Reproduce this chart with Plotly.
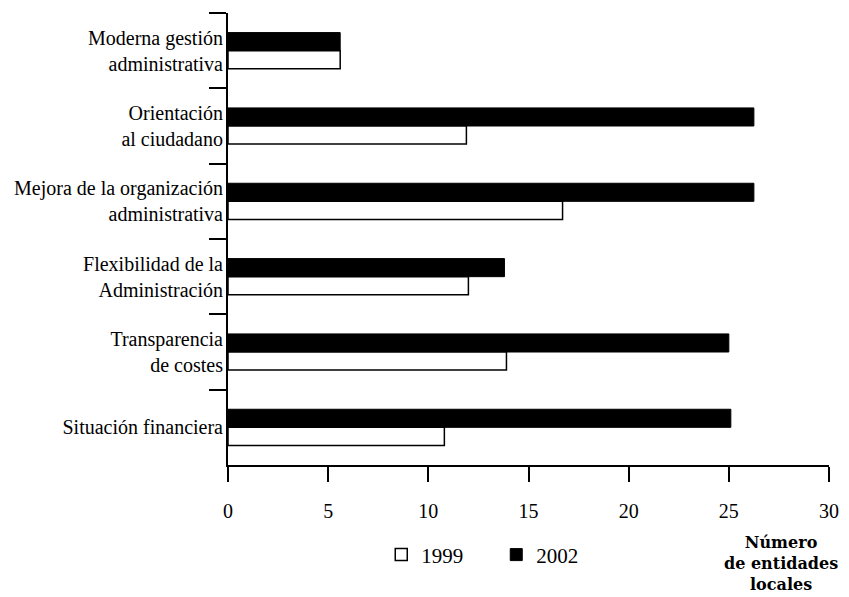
import plotly.graph_objects as go

categories = [
    "Moderna gestión<br>administrativa",
    "Orientación<br>al ciudadano",
    "Mejora de la organización<br>administrativa",
    "Flexibilidad de la<br>Administración",
    "Transparencia<br>de costes",
    "Situación financiera",
]
values_2002 = [5.6, 26.25, 26.25, 13.8, 25.0, 25.1]
values_1999 = [5.6, 11.9, 16.7, 12.0, 13.9, 10.8]
x_ticks = [0, 5, 10, 15, 20, 25, 30]

FONT = "Liberation Serif"

fig = go.Figure()
fig.add_trace(go.Bar(
    y=categories, x=values_2002, orientation="h", name="2002",
    marker=dict(color="black", line=dict(color="black", width=1)),
))
fig.add_trace(go.Bar(
    y=categories, x=values_1999, orientation="h", name="1999",
    marker=dict(color="white", line=dict(color="black", width=1.5)),
))

fig.update_layout(
    width=841, height=589,
    margin=dict(l=220, r=20, t=5, b=132),
    paper_bgcolor="white", plot_bgcolor="white",
    barmode="group", bargap=0.52, bargroupgap=0,
    font=dict(family=FONT, size=20, color="black"),
    showlegend=True,
    legend=dict(
        orientation="h", traceorder="reversed",
        x=0.255, xanchor="left", y=-0.199, yanchor="middle",
        font=dict(size=21), entrywidth=70, entrywidthmode="pixels",
        bgcolor="rgba(0,0,0,0)",
    ),
)
fig.update_yaxes(
    autorange="reversed", tickson="boundaries",
    ticks="outside", ticklen=17, tickwidth=2, tickcolor="black",
    showline=True, linecolor="black", linewidth=2,
    showgrid=False, ticklabelstandoff=-1,
    tickfont=dict(family=FONT, size=20),
)
fig.update_xaxes(
    range=[0, 30], tickvals=x_ticks, ticktext=[str(v) for v in x_ticks],
    ticks="outside", ticklen=15, tickwidth=2, tickcolor="black",
    showline=True, linecolor="black", linewidth=2,
    showgrid=False, zeroline=False, ticklabelstandoff=12,
    tickfont=dict(family=FONT, size=20),
)
fig.add_annotation(
    text="<b>Número<br>de entidades<br>locales</b>",
    xref="paper", yref="paper", x=0.92, y=-0.217,
    xanchor="center", yanchor="middle", showarrow=False,
    font=dict(family="DejaVu Serif", size=16, color="black"), align="center",
)

fig.write_html("out.html")
